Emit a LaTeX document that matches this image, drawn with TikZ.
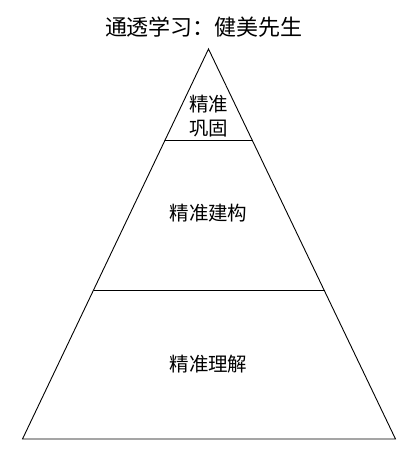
\documentclass[tikz,border=0pt]{standalone}
\usepackage{fontspec}
\newfontfamily\cjk{Noto Sans CJK SC}
\begin{document}
\begin{tikzpicture}[x=1pt,y=-1pt,
  lbl/.style={font=\cjk\fontsize{19.5}{24}\selectfont, align=center, inner sep=0pt},
  edge/.style={draw=black, line width=0.9pt}]
\useasboundingbox (0,0) rectangle (420,459);
\fill[white] (0,0) rectangle (420,459);
\coordinate (apex) at (208.5,49);
\coordinate (bl) at (22.5,439);
\coordinate (br) at (395.5,439);
\coordinate (l1) at (165.3,140);
\coordinate (r1) at (252.2,140);
\coordinate (l2) at (93.8,290);
\coordinate (r2) at (324.5,290);
\draw[edge, line join=miter] (apex) -- (br) -- (bl) -- cycle;
\draw[edge] (l1) -- (r1);
\draw[edge] (l2) -- (r2);
\node[lbl, font=\cjk\fontsize{22}{24}\selectfont] (title) at (204,27) {通透学习：健美先生};
\node[lbl] (top) at (208.5,116) {精准\\巩固};
\node[lbl] (mid) at (208.5,213.5) {精准建构};
\node[lbl] (bot) at (208.5,364) {精准理解};
\end{tikzpicture}
\end{document}
